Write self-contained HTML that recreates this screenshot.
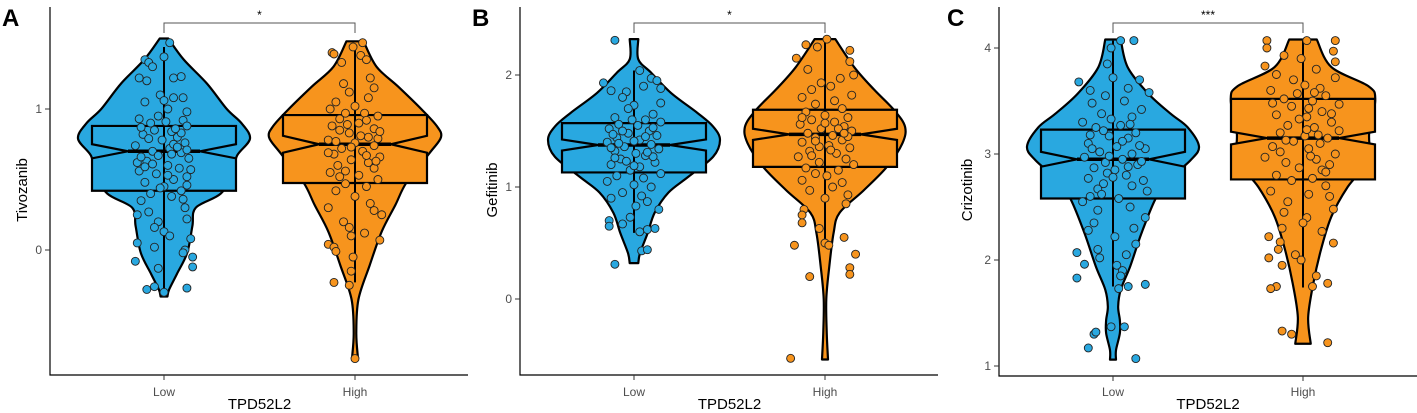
<!DOCTYPE html>
<html><head><meta charset="utf-8"><style>
html,body{margin:0;padding:0;background:#fff}
svg{display:block;font-family:"Liberation Sans",sans-serif}
</style></head><body>
<svg id="chart" width="1417" height="413" viewBox="0 0 1417 413"></svg>
<script>
const categories=["Low","High"];
const panelLetters=["A","B","C"];
const yTitles=["Tivozanib","Gefitinib","Crizotinib"];
const sigLabels=["*","*","***"];
const aTicks=[0,1], bTicks=[0,1,2], cTicks=[1,2,3,4];
// box stats: lowerWhisker, q1, median, q3, upperWhisker, notchHalf
const aLowBox=[-0.29,0.42,0.70,0.88,1.44,0.05], aHighBox=[-0.23,0.475,0.75,0.957,1.44,0.06];
const bLowBox=[0.59,1.13,1.375,1.57,2.04,0.05], bHighBox=[0.53,1.18,1.47,1.69,2.32,0.05];
const cLowBox=[1.75,2.58,2.95,3.23,4.07,0.07], cHighBox=[1.74,2.76,3.15,3.52,4.07,0.06];
// violin profiles: [value, relative half-width]
const aLowViolin=[[1.50,0.05],[1.35,0.23],[1.18,0.5],[1.0,0.73],[0.90,0.9],[0.79,1.0],[0.67,0.85],[0.55,0.8],[0.40,0.66],[0.30,0.37],[0.17,0.33],[-0.02,0.27],[-0.17,0.15],[-0.28,0.06],[-0.33,0.04]];
const aHighViolin=[[1.48,0.1],[1.30,0.25],[1.16,0.5],[1.0,0.77],[0.88,0.95],[0.80,1.0],[0.69,0.87],[0.48,0.6],[0.32,0.47],[0.13,0.31],[-0.11,0.17],[-0.35,0.04],[-0.59,0.015],[-0.77,0.035]];
const bLowViolin=[[2.32,0.05],[2.14,0.05],[2.02,0.2],[1.84,0.43],[1.66,0.74],[1.54,0.92],[1.42,1.0],[1.27,0.92],[1.09,0.63],[0.95,0.4],[0.77,0.24],[0.59,0.16],[0.41,0.07],[0.32,0.05]];
const bHighViolin=[[2.32,0.12],[2.07,0.34],[1.87,0.57],[1.69,0.8],[1.54,0.93],[1.39,0.9],[1.18,0.72],[0.97,0.45],[0.77,0.17],[0.59,0.1],[0.29,0.05],[0.0,0.015],[-0.3,0.02],[-0.54,0.035]];
const cLowViolin=[[4.08,0.09],[3.82,0.17],[3.57,0.41],[3.38,0.67],[3.25,0.87],[3.07,1.0],[2.94,0.9],[2.75,0.64],[2.57,0.49],[2.25,0.33],[1.94,0.2],[1.72,0.09],[1.56,0.06],[1.43,0.08],[1.31,0.08],[1.15,0.035],[1.06,0.035]];
const cHighViolin=[[4.08,0.16],[3.82,0.33],[3.64,0.76],[3.51,0.84],[3.2,0.77],[2.94,0.76],[2.69,0.52],[2.41,0.33],[2.1,0.21],[1.78,0.12],[1.46,0.06],[1.21,0.09]];
// points: [value, jitter (category units)]
const aLowPts=[[1.47,.03],[1.35,-.1],[1.33,-.08],[1.3,-.06],[1.22,-.13],[1.2,-.09],[1.37,0],[1.22,.05],[1.23,.09],[1.1,-.02],[1.06,0],[1.08,.05],[1.08,.1],[1.05,-.1],[1.0,.02],[0.98,.12],[0.93,-.13],[0.9,-.07],[0.92,.1],[0.88,.12],[0.85,-.05],[0.84,.04],[0.82,-.11],[0.8,.07],[0.78,-.01],[0.76,.11],[0.74,-.15],[0.72,.03],[0.7,-.06],[0.69,.09],[0.67,-.03],[0.65,.13],[0.63,-.09],[0.6,.02],[0.58,.08],[0.56,-.13],[0.54,-.04],[0.52,.12],[0.5,.05],[0.48,-.1],[0.45,0],[0.42,.09],[0.4,-.07],[0.38,.04],[0.35,-.12],[0.3,.11],[0.27,-.08],[0.25,-.14],[0.22,.12],[0.2,-.03],[0.16,-.05],[0.13,0],[0.1,.03],[0.08,.14],[0.05,-.14],[0.02,-.05],[0.0,.11],[-0.02,.1],[-0.05,.15],[-0.08,-.15],[-0.12,.15],[-0.13,-.03],[-0.28,-.09],[-0.27,.12],[-0.3,0],[-0.26,-.05],[0.95,-.03],[0.87,-.12],[0.75,.05],[0.62,-.14],[0.57,.14],[0.46,.12],[0.71,.12],[0.83,.09],[0.66,-.12],[0.91,.01],[0.79,-.08],[0.73,.07],[0.61,-.06],[0.53,.02],[0.44,-.02],[0.86,.06],[0.68,.04],[0.59,-.1],[0.36,.1]];
const aHighPts=[[1.47,.04],[1.44,-.01],[1.4,-.12],[1.39,-.11],[1.38,.03],[1.35,.06],[1.33,-.07],[1.22,.08],[1.18,-.06],[1.15,.1],[1.12,-.03],[1.08,.07],[1.05,-.1],[1.02,0],[1.0,-.13],[0.97,.05],[0.95,.12],[0.93,-.08],[0.9,.02],[0.88,-.12],[0.86,.1],[0.83,-.03],[0.8,.07],[0.78,-.14],[0.76,0],[0.74,.1],[0.72,-.07],[0.7,.04],[0.68,-.11],[0.66,.13],[0.64,-.02],[0.62,.07],[0.6,-.09],[0.58,.1],[0.55,-.13],[0.53,.02],[0.5,.12],[0.47,-.05],[0.45,.06],[0.42,-.1],[0.38,0],[0.33,.08],[0.3,-.14],[0.28,.1],[0.25,.14],[0.2,-.06],[0.16,-.03],[0.12,.05],[0.1,-.02],[0.04,-.14],[0.02,-.11],[-0.01,-.1],[-0.05,-.01],[-0.15,-.02],[-0.23,-.11],[-0.25,-.03],[0.07,.13],[-0.77,0],[0.92,.06],[0.85,-.08],[0.79,.12],[0.73,-.02],[0.67,.06],[0.56,-.05],[0.69,-.14],[0.89,-.04],[0.81,.03],[0.77,-.1],[0.63,.11],[0.52,-.08],[0.97,-.05],[0.84,.13]];
const bLowPts=[[2.31,-.1],[2.04,.03],[1.97,.09],[1.95,.12],[1.93,-.16],[1.9,.05],[1.88,.14],[1.86,-.12],[1.85,-.04],[1.8,-.06],[1.75,.14],[1.73,0],[1.7,-.03],[1.65,.1],[1.62,-.1],[1.6,.06],[1.58,.14],[1.56,-.08],[1.55,.02],[1.52,-.13],[1.5,.08],[1.48,-.03],[1.46,.12],[1.44,-.09],[1.42,.03],[1.4,-.14],[1.38,.09],[1.36,-.05],[1.34,.13],[1.32,-.1],[1.3,.01],[1.28,.06],[1.25,-.07],[1.22,.11],[1.2,-.12],[1.18,.03],[1.15,-.02],[1.12,.14],[1.1,-.09],[1.08,.05],[1.05,-.14],[1.02,0],[1.0,.09],[0.95,-.06],[0.92,.04],[0.9,-.12],[0.87,.07],[0.83,.01],[0.8,.13],[0.73,-.02],[0.7,-.13],[0.65,-.13],[0.67,-.06],[0.62,.07],[0.6,.03],[0.63,.11],[0.43,.04],[0.44,.07],[0.31,-.1],[1.45,.06],[1.35,-.12],[1.27,.1],[1.5,-.06],[1.41,.0],[1.23,-.04],[1.53,.1],[1.39,-.08],[1.31,.07],[1.19,.0],[1.47,-.11],[1.26,-.1],[1.6,-.01]];
const bHighPts=[[2.32,.01],[2.27,-.1],[2.25,-.04],[2.22,.13],[2.15,-.15],[2.12,.13],[2.05,-.09],[2.0,.15],[1.97,.08],[1.93,-.02],[1.9,.03],[1.87,-.07],[1.82,.14],[1.8,-.12],[1.77,.05],[1.74,-.05],[1.7,.09],[1.67,-.1],[1.64,0],[1.62,.12],[1.6,-.07],[1.58,.05],[1.56,-.13],[1.54,.1],[1.52,-.02],[1.5,.14],[1.48,-.09],[1.46,.04],[1.44,-.05],[1.42,.09],[1.4,-.12],[1.37,.02],[1.35,.13],[1.32,-.08],[1.3,.06],[1.27,-.14],[1.25,.11],[1.22,-.03],[1.2,.15],[1.17,-.1],[1.15,.07],[1.12,-.05],[1.1,.01],[1.06,-.12],[1.04,.09],[1.0,.04],[0.97,-.08],[0.93,.12],[0.9,0],[0.85,.11],[0.8,-.11],[0.75,-.12],[0.68,-.12],[0.63,-.03],[0.5,0],[0.48,.02],[0.55,.1],[0.48,-.16],[0.4,.16],[0.28,.13],[0.22,.13],[0.2,-.08],[-0.53,-.18],[1.57,.0],[1.45,.12],[1.36,-.03],[1.62,-.12],[1.52,.07],[1.41,-.05],[1.33,.03],[1.28,-.07],[1.48,.1]];
const cLowPts=[[4.07,.04],[4.07,.11],[4.0,-.01],[3.85,-.03],[3.72,0],[3.7,.14],[3.68,-.18],[3.62,.08],[3.6,-.12],[3.58,.19],[3.55,-.04],[3.5,.06],[3.48,-.11],[3.42,.15],[3.38,-.06],[3.35,.1],[3.3,-.16],[3.27,.04],[3.25,-.09],[3.2,.12],[3.17,-.02],[3.15,.08],[3.1,-.13],[3.07,.02],[3.05,.17],[3.02,-.07],[3.0,.1],[2.97,-.15],[2.95,.05],[2.92,-.04],[2.9,.13],[2.87,-.1],[2.85,.01],[2.8,.07],[2.77,-.13],[2.75,.16],[2.72,-.05],[2.7,.1],[2.67,-.08],[2.65,.18],[2.6,-.12],[2.58,.03],[2.55,-.16],[2.5,.09],[2.47,-.08],[2.4,.17],[2.35,-.1],[2.3,.11],[2.28,-.13],[2.22,.01],[2.15,.12],[2.1,-.08],[2.05,.07],[2.07,-.19],[2.02,-.07],[1.96,-.15],[1.95,.02],[1.9,.05],[1.85,.04],[1.83,-.19],[1.77,.17],[1.75,.08],[1.73,.03],[1.37,-.01],[1.37,.06],[1.3,-.1],[1.32,-.09],[1.17,-.13],[1.07,.12],[3.12,.05],[3.05,-.11],[2.93,.15],[2.98,-.02],[3.22,-.05],[2.82,-.03],[3.28,.09],[3.18,-.12],[2.88,.08],[2.78,.0],[2.62,-.06],[3.08,.14],[3.33,-.01]];
const cHighPts=[[4.07,-.19],[4.07,.02],[4.07,.17],[4.0,-.19],[3.97,.16],[3.93,-.1],[3.9,-.01],[3.87,.17],[3.83,-.2],[3.8,.07],[3.75,-.14],[3.72,.17],[3.7,-.05],[3.65,.01],[3.62,.09],[3.6,-.17],[3.57,-.03],[3.55,.12],[3.52,-.1],[3.5,.05],[3.47,.19],[3.45,-.06],[3.4,.1],[3.37,-.14],[3.35,.02],[3.3,.15],[3.27,-.08],[3.25,.06],[3.22,.19],[3.2,-.12],[3.17,.01],[3.15,.13],[3.12,-.05],[3.1,.09],[3.07,-.16],[3.05,.03],[3.0,.17],[2.97,-.2],[2.95,.07],[2.92,-.09],[2.9,.14],[2.87,-.02],[2.85,.1],[2.8,-.14],[2.77,.05],[2.75,-.06],[2.7,.12],[2.65,-.17],[2.62,.03],[2.6,.14],[2.55,-.08],[2.48,.16],[2.45,-.1],[2.4,.02],[2.35,0],[2.3,-.11],[2.27,.1],[2.22,-.18],[2.17,-.12],[2.16,.16],[2.1,-.13],[2.05,-.04],[2.02,-.18],[2.0,-.01],[1.95,-.11],[1.85,.07],[1.78,.13],[1.75,.05],[1.75,-.14],[1.73,-.17],[1.33,-.11],[1.3,-.06],[1.22,.13],[3.33,-.02],[3.18,.08],[3.02,-.12],[3.43,.03],[3.58,.06],[3.48,-.16],[3.13,-.09],[2.98,.04],[3.23,.02],[2.83,.12],[3.38,.15]];

const NS="http://www.w3.org/2000/svg";
const svg=document.getElementById("chart");
function mk(tag,attrs,parent){const e=document.createElementNS(NS,tag);for(const k in attrs)e.setAttribute(k,attrs[k]);(parent||svg).appendChild(e);return e;}
function smooth(pts){ // catmull-rom through points, returns path segment string (without initial M)
 let d="";
 for(let i=0;i<pts.length-1;i++){
  const p0=pts[Math.max(i-1,0)],p1=pts[i],p2=pts[i+1],p3=pts[Math.min(i+2,pts.length-1)];
  const c1=[p1[0]+(p2[0]-p0[0])/6,p1[1]+(p2[1]-p0[1])/6];
  const c2=[p2[0]-(p3[0]-p1[0])/6,p2[1]-(p3[1]-p1[1])/6];
  d+=`C${c1[0]},${c1[1]} ${c2[0]},${c2[1]} ${p2[0]},${p2[1]}`;
 }
 return d;
}
const colors=["#29a8e0","#f7941d"];
const panels=[
 {ox:0,axisX:50,bottom:375,right:468,top:7,cx:[164,355],y0:250,k:141,ticks:aTicks,box:[aLowBox,aHighBox],vio:[aLowViolin,aHighViolin],pts:[aLowPts,aHighPts],maxHw:86},
 {ox:470,axisX:520,bottom:375,right:938,top:7,cx:[634,825],y0:299,k:112,ticks:bTicks,box:[bLowBox,bHighBox],vio:[bLowViolin,bHighViolin],pts:[bLowPts,bHighPts],maxHw:86},
 {ox:945,axisX:999,bottom:376,right:1417,top:7,cx:[1113,1303],y0:472,k:106,ticks:cTicks,box:[cLowBox,cHighBox],vio:[cLowViolin,cHighViolin],pts:[cLowPts,cHighPts],maxHw:86}
];
panels.forEach((p,pi)=>{
 const sy=v=>p.y0-p.k*v;
 const sp=p.cx[1]-p.cx[0];
 const g=mk("g",{});
 
 
 const L=mk("text",{x:p.ox+2,y:26,"font-size":24,"font-weight":"bold",fill:"#000"},g);L.textContent=panelLetters[pi];
 
 
 const ax=mk("path",{d:`M${p.axisX},${p.top}V${p.bottom}H${p.right}`,fill:"none",stroke:"#000","stroke-width":1.2},g);
 
 
 p.ticks.forEach(t=>{
  mk("line",{x1:p.axisX-5,x2:p.axisX,y1:sy(t),y2:sy(t),stroke:"#333"},g);
  const tl=mk("text",{x:p.axisX-8,y:sy(t)+4,"text-anchor":"end","font-size":12,fill:"#4d4d4d"},g);tl.textContent=t;
  
  
 });
 const yt=mk("text",{x:0,y:0,"font-size":15,fill:"#000","text-anchor":"middle",transform:`translate(${p.ox+27},${190}) rotate(-90)`},g);yt.textContent=yTitles[pi];
 
 
 const xt=mk("text",{x:(p.cx[0]+p.cx[1])/2,y:409,"font-size":15,fill:"#000","text-anchor":"middle"},g);xt.textContent="TPD52L2";
 
 
 const br=mk("path",{d:`M${p.cx[0]},33V23H${p.cx[1]}V33`,fill:"none",stroke:"#555","stroke-width":1},g);
 
 
 const st=mk("text",{x:(p.cx[0]+p.cx[1])/2,y:19,"font-size":12,"text-anchor":"middle",fill:"#000"},g);st.textContent=sigLabels[pi];
 
 
 categories.forEach((c,ci)=>{
  const cx=p.cx[ci];
  mk("line",{x1:cx,x2:cx,y1:p.bottom,y2:p.bottom+5,stroke:"#333"},g);
  const cl=mk("text",{x:cx,y:396,"text-anchor":"middle","font-size":12,fill:"#4d4d4d"},g);cl.textContent=c;
  
  
  const v=p.vio[ci];
  const left=v.map(q=>[cx-q[1]*p.maxHw,sy(q[0])]);
  const right=v.map(q=>[cx+q[1]*p.maxHw,sy(q[0])]).reverse();
  let d="M"+left[0][0]+","+left[0][1]+smooth(left)+"L"+right[0][0]+","+right[0][1]+smooth(right)+"Z";
  const vp=mk("path",{d,fill:colors[ci],stroke:"#000","stroke-width":2.2,"stroke-linejoin":"round"},g);
  
  
  const b=p.box[ci], hw=72, nw=36;
  const bd=`M${cx-hw},${sy(b[1])}L${cx-hw},${sy(b[2]-b[5])}L${cx-nw},${sy(b[2])}L${cx-hw},${sy(b[2]+b[5])}L${cx-hw},${sy(b[3])}L${cx+hw},${sy(b[3])}L${cx+hw},${sy(b[2]+b[5])}L${cx+nw},${sy(b[2])}L${cx+hw},${sy(b[2]-b[5])}L${cx+hw},${sy(b[1])}Z`;
  const bp=mk("path",{d:bd,fill:colors[ci],stroke:"#000","stroke-width":2.2},g);
  
  
  const wl=mk("line",{x1:cx,x2:cx,y1:sy(b[0]),y2:sy(b[4]),stroke:"#000","stroke-width":2},g);
  
  
  const ml=mk("line",{x1:cx-nw,x2:cx+nw,y1:sy(b[2]),y2:sy(b[2]),stroke:"#000","stroke-width":3.5},g);
  
  
  p.pts[ci].forEach(pt=>{
   const cc=mk("circle",{cx:cx+pt[1]*sp,cy:sy(pt[0]),r:4,fill:colors[ci],stroke:"#222","stroke-width":0.9},g);
   
   
  });
 });
});
</script>
</body></html>
